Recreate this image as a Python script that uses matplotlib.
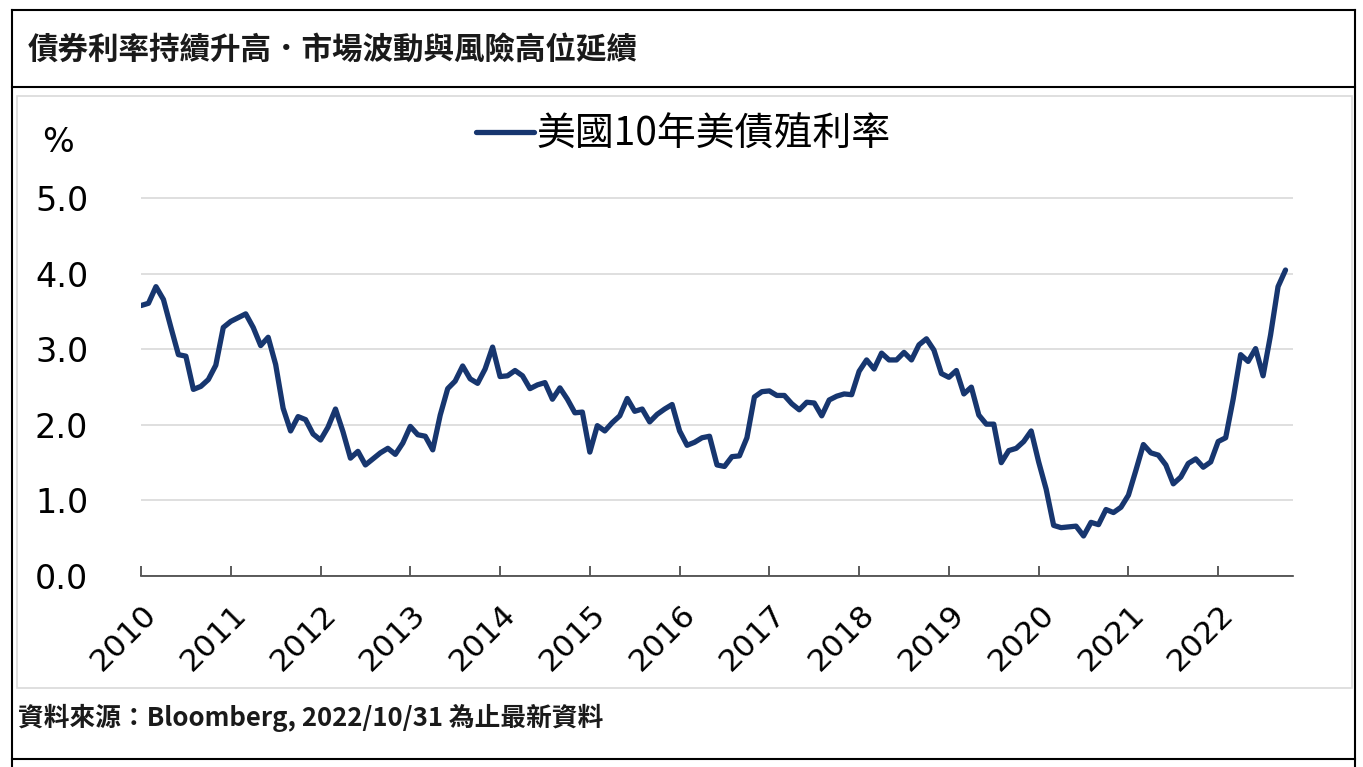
import numpy as np
import matplotlib
matplotlib.use("Agg")
import matplotlib.pyplot as plt
from matplotlib.lines import Line2D
from matplotlib.patches import Rectangle
import matplotlib.transforms as mtransforms

plt.rcParams['font.family'] = ['Noto Sans CJK TC', 'DejaVu Sans']

# data: US 10Y yield, month-end, Jan 2010 - Oct 2022 (%)
y2010 = [3.58, 3.61, 3.83, 3.66, 3.29, 2.93, 2.91, 2.47, 2.51, 2.60, 2.79, 3.29]
y2011 = [3.37, 3.42, 3.47, 3.29, 3.05, 3.16, 2.80, 2.22, 1.92, 2.11, 2.07, 1.88]
y2012 = [1.80, 1.97, 2.21, 1.91, 1.56, 1.65, 1.47, 1.55, 1.63, 1.69, 1.61, 1.76]
y2013 = [1.98, 1.87, 1.85, 1.67, 2.13, 2.48, 2.58, 2.78, 2.61, 2.55, 2.74, 3.03]
y2014 = [2.64, 2.65, 2.72, 2.65, 2.48, 2.53, 2.56, 2.34, 2.49, 2.34, 2.16, 2.17]
y2015 = [1.64, 1.99, 1.92, 2.03, 2.12, 2.35, 2.18, 2.21, 2.04, 2.14, 2.21, 2.27]
y2016 = [1.92, 1.73, 1.77, 1.83, 1.85, 1.47, 1.45, 1.58, 1.59, 1.83, 2.37, 2.44]
y2017 = [2.45, 2.39, 2.39, 2.28, 2.20, 2.30, 2.29, 2.12, 2.33, 2.38, 2.41, 2.40]
y2018 = [2.71, 2.86, 2.74, 2.95, 2.86, 2.86, 2.96, 2.86, 3.06, 3.14, 2.99, 2.68]
y2019 = [2.63, 2.72, 2.41, 2.50, 2.13, 2.01, 2.01, 1.50, 1.66, 1.69, 1.78, 1.92]
y2020 = [1.51, 1.15, 0.67, 0.64, 0.65, 0.66, 0.53, 0.71, 0.68, 0.88, 0.84, 0.91]
y2021 = [1.07, 1.40, 1.74, 1.63, 1.60, 1.47, 1.22, 1.31, 1.49, 1.55, 1.44, 1.51]
y2022 = [1.78, 1.83, 2.34, 2.93, 2.84, 3.01, 2.65, 3.19, 3.83, 4.05]

years = ['2010', '2011', '2012', '2013', '2014', '2015', '2016',
         '2017', '2018', '2019', '2020', '2021', '2022']
yticks = [0.0, 1.0, 2.0, 3.0, 4.0, 5.0]

yields = (y2010 + y2011 + y2012 + y2013 + y2014 + y2015 + y2016 + y2017
          + y2018 + y2019 + y2020 + y2021 + y2022)
months = np.arange(len(yields))

W, H = 1363, 767
fig = plt.figure(figsize=(W / 100, H / 100), dpi=100)

def fx(px):
    return px / W

def fy(py):
    return 1 - py / H

# frame lines
def hline(y, x0, x1, c='black', lw=1.5):
    fig.add_artist(Line2D([fx(x0), fx(x1)], [fy(y), fy(y)], color=c, lw=lw))

def vline(x, y0, y1, c='black', lw=1.5):
    fig.add_artist(Line2D([fx(x), fx(x)], [fy(y0), fy(y1)], color=c, lw=lw))

hline(10, 12, 1355)
hline(87, 12, 1355)
hline(759, 12, 1355)
vline(12, 10, 767)
vline(1355, 10, 767)
fig.add_artist(Rectangle((fx(17), fy(688)), fx(1352) - fx(17), fy(96) - fy(688),
                         transform=fig.transFigure, fill=False, ec='#d9d9d9', lw=1.2))

# title and footer
fig.text(fx(28), fy(50), '債券利率持續升高．市場波動與風險高位延續', fontsize=22,
         fontweight='bold', va='center', ha='left', color='#1a1a1a')
fig.text(fx(18), fy(718), '資料來源：Bloomberg, 2022/10/31 為止最新資料', fontsize=18.5,
         fontweight='bold', va='center', ha='left', color='#1a1a1a')

# axes
ax = fig.add_axes([fx(141), fy(576), fx(1293) - fx(141), fy(196) - fy(576)])
line_color = '#17366f'
ax.plot(months, yields, color=line_color, lw=3.8, solid_joinstyle='round',
        solid_capstyle='round', label='美國10年美債殖利率')
ax.set_xlim(0, 154)
ax.set_ylim(0, 5.03)

ax.set_yticks(yticks)
ax.set_yticklabels(['%.1f' % v for v in yticks])
ax.tick_params(axis='y', length=0, pad=38)
ax.grid(axis='y', color='#d9d9d9', lw=1.2)
ax.set_axisbelow(True)

ax.set_xticks(np.arange(0, 12 * len(years), 12))
ax.set_xticklabels(years, rotation=45, ha='right', va='center', rotation_mode='anchor')
ax.tick_params(axis='x', direction='in', length=7, width=1.2, color='#404040', pad=24)
offset = mtransforms.ScaledTranslation(8 / 72, 0, fig.dpi_scale_trans)
for lab in ax.get_xticklabels():
    lab.set_transform(lab.get_transform() + offset)
    lab.set_fontfamily('DejaVu Sans')
    lab.set_fontsize(22.5)
for lab in ax.get_yticklabels():
    lab.set_fontfamily('DejaVu Sans')
    lab.set_fontsize(24)

for s in ['top', 'right', 'left']:
    ax.spines[s].set_visible(False)
ax.spines['bottom'].set_color('#404040')
ax.spines['bottom'].set_linewidth(1.2)

fig.text(fx(58), fy(142), '%', fontsize=24, fontfamily='DejaVu Sans', ha='center', va='center')

ax.legend(loc='center', bbox_to_anchor=(fx(683), fy(135)), bbox_transform=fig.transFigure,
          frameon=False, fontsize=28, handlelength=1.5, handletextpad=0.05,
          borderpad=0, borderaxespad=0)

fig.savefig('out.png', dpi=100)
